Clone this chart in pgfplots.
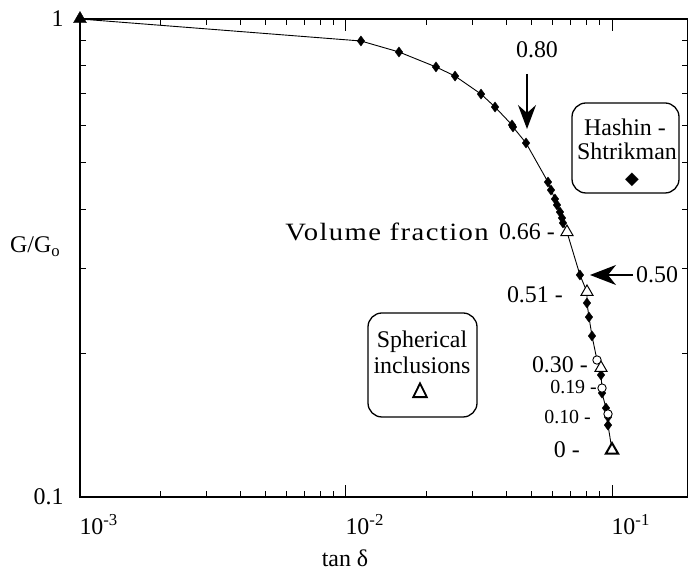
\documentclass[border=0pt]{standalone}
\usepackage{pgfplots}
\pgfplotsset{compat=1.18}
\usepackage{fontspec}
\setmainfont{Liberation Serif}
\newfontfamily\symfont{DejaVu Sans}
\newfontfamily\symbold[FakeBold=4]{DejaVu Sans}
\newfontfamily\wideserif[LetterSpace=5]{Liberation Serif}
\usetikzlibrary{arrows.meta}
\newcommand{\fA}{\fontsize{24}{27}\selectfont}
\newcommand{\fB}{\fontsize{20}{23}\selectfont}
\begin{document}
\begin{tikzpicture}[x=1bp,y=1bp, lab/.style={font=\fA, inner sep=0pt}]
\useasboundingbox (0,0) rectangle (688,576);
\begin{axis}[
  at={(80bp,79bp)}, anchor=south west,
  scale only axis, width=608bp, height=478bp,
  xmode=log, ymode=log,
  xmin=0.001, xmax=0.1931, ymin=0.1, ymax=1,
  xtick={0.001,0.01,0.1},
  xticklabels={10\textsuperscript{-3},10\textsuperscript{-2},10\textsuperscript{-1}},
  minor xtick={0.002,0.003,0.004,0.005,0.006,0.007,0.008,0.009,0.02,0.03,0.04,0.05,0.06,0.07,0.08,0.09},
  ytick={0.1,1}, yticklabels={0.1,1},
  minor ytick={0.2,0.3,0.4,0.5,0.6,0.7,0.8,0.9},
  major tick length=12bp, minor tick length=6bp,
  tick style={black, line width=1bp},
  axis line style={line width=1.5bp},
  tick label style={font=\fA},
  /pgf/number format/assume math mode=true,
  xticklabel style={anchor=north west, xshift=-4bp, yshift=-14bp},
  yticklabel style={anchor=east, xshift=-13bp},
  clip=false,
]
\addplot[black, line width=0.9bp] coordinates {
(0.001,1) (0.01138,0.8995) (0.01582,0.8531) (0.02179,0.7938) (0.02570,0.7597)
(0.03218,0.6966) (0.03633,0.6545) (0.04208,0.6003) (0.04244,0.5945) (0.04750,0.5503)
(0.05746,0.4560) (0.05898,0.4387) (0.06105,0.4202) (0.06211,0.4083) (0.06375,0.3947)
(0.06486,0.3835) (0.06543,0.3744) (0.06773,0.3584) (0.07578,0.2914) (0.08053,0.2685)
(0.08053,0.2546) (0.08193,0.2379) (0.08410,0.2172) (0.08782,0.1935) (0.09092,0.1862)
(0.09092,0.1800) (0.09172,0.1690) (0.09172,0.1650) (0.09493,0.1535) (0.0966,0.1492)
(0.0966,0.1470) (0.0966,0.1414) (0.1,0.1254)};
\addplot[only marks, mark=diamond*, mark size=5bp, black] coordinates {
(0.01138,0.8995) (0.01582,0.8531) (0.02179,0.7938) (0.02570,0.7597)
(0.03218,0.6966) (0.03633,0.6545) (0.04208,0.6003) (0.04244,0.5945) (0.04750,0.5503)
(0.05746,0.4560) (0.05898,0.4387) (0.06105,0.4202) (0.06211,0.4083) (0.06375,0.3947)
(0.06486,0.3835) (0.06543,0.3744) (0.07578,0.2914)
(0.08053,0.2546) (0.08193,0.2379) (0.08410,0.2172)
(0.09092,0.1800) (0.09172,0.1650) (0.09493,0.1535)
(0.0966,0.1470) (0.0966,0.1414)};
\addplot[only marks, mark=*, mark size=4.2bp, mark options={fill=white, draw=black, line width=0.9bp}] coordinates {
(0.08782,0.1935) (0.09172,0.1690) (0.0966,0.1492)};
\addplot[only marks, mark=triangle*, mark size=7bp, mark options={fill=white, draw=black, line width=1bp}] coordinates {
(0.06773,0.3584) (0.08053,0.2685) (0.09092,0.1862)};
\addplot[only marks, mark=triangle*, mark size=7bp, mark options={fill=white, draw=black, line width=2bp}] coordinates {
(0.1,0.1254)};
\addplot[only marks, mark=triangle*, mark size=7.5bp, mark options={fill=black, draw=black}] coordinates {
(0.001,1)};
\end{axis}
% annotations
\node[lab] at (537,526) {0.80};
\draw[line width=1.5bp, -{Stealth[length=24bp,width=18bp,inset=8bp]}] (527,502) -- (527,447);
\draw[line width=1.3bp, rounded corners=14bp] (572,383) rectangle (679,473);
\node[lab] at (625,449) {Hashin -};
\node[lab] at (627,425) {Shtrikman};
\node[inner sep=0pt, font=\symfont\fontsize{18}{18}\selectfont] at (632,396) {◆};
\draw[line width=1.3bp, rounded corners=14bp] (368,159) rectangle (477,263);
\node[lab] at (422,234) {Spherical};
\node[lab] at (422,211) {inclusions};
\node[inner sep=0pt, font=\symbold\fontsize{20}{20}\selectfont] at (420,186) {△};
\node[lab, anchor=east, xscale=1.15, font=\wideserif\fontsize{25}{28}\selectfont] at (489,344) {Volume fraction};
\node[lab, anchor=east] at (555,344) {0.66 -};
\node[lab, anchor=east] at (563,281) {0.51 -};
\draw[line width=1.5bp, -{Stealth[length=26bp,width=20bp,inset=8bp]}] (633,301) -- (590,301);
\node[lab, anchor=west] at (636,301) {0.50};
\node[lab, anchor=east] at (588,211) {0.30 -};
\node[lab, anchor=east, font=\fB] at (597,189) {0.19 -};
\node[lab, anchor=east, font=\fB] at (591,159) {0.10 -};
\node[lab, anchor=east] at (580,126) {0 -};
\node[lab, anchor=base west] at (10,323) {G/G\textsubscript{o}};
\node[lab, anchor=base] at (345,9) {tan δ};
\end{tikzpicture}
\end{document}
